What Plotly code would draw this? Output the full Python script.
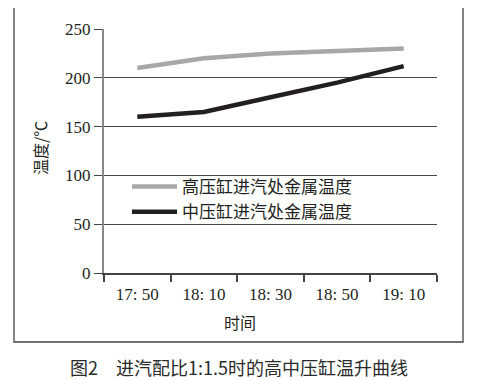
import plotly.graph_objects as go

times = ["17: 50", "18: 10", "18: 30", "18: 50", "19: 10"]
hp_temp = [210, 220, 225, 228, 230]
ip_temp = [160, 165, 180, 195, 212]
series_names = ["高压缸进汽处金属温度", "中压缸进汽处金属温度"]
y_ticks = [0, 50, 100, 150, 200, 250]

OFF = 8  # page body margin offset
W, H = 479 - OFF, 380 - OFF
# plot area in screen coords: x 104..437, y 29..273
L = 104 - OFF
T = 29 - OFF
R = W - (437 - OFF)
B = H - (273 - OFF)
pw, ph = W - L - R, H - T - B

def px(x):
    return (x - OFF - L) / pw

def py(y):
    return (H - B - (y - OFF)) / ph

serif = "Liberation Serif, Times New Roman, serif"
cjk = "Noto Sans CJK SC"

fig = go.Figure()
fig.add_trace(go.Scatter(x=times, y=hp_temp, mode="lines", name=series_names[0],
                         line=dict(color="#a7a7a9", width=4.5)))
fig.add_trace(go.Scatter(x=times, y=ip_temp, mode="lines", name=series_names[1],
                         line=dict(color="#231f20", width=4.5)))

fig.update_layout(
    width=W, height=H,
    margin=dict(l=L, r=R, t=T, b=B, pad=0),
    paper_bgcolor="white", plot_bgcolor="white",
    showlegend=True,
    legend=dict(x=px(127), y=py(169), xanchor="left", yanchor="top",
                bgcolor="rgba(0,0,0,0)", font=dict(family=cjk, size=17, color="#231f20"),
                tracegroupgap=0, itemwidth=45),
    xaxis=dict(type="category", tickson="boundaries", ticks="outside", ticklen=7,
               tickcolor="#444", tickwidth=1.5, showline=True, linecolor="#444", linewidth=1.5,
               showgrid=False, tickfont=dict(family=serif, size=17, color="#231f20"),
               ticklabelstandoff=5, range=[-0.5, 4.5]),
    yaxis=dict(range=[0, 250], tickvals=y_ticks, ticks="outside", ticklen=8,
               tickcolor="#444", tickwidth=1.2, showline=True, linecolor="#888", linewidth=2,
               showgrid=True, gridcolor="#444", gridwidth=1.2, zeroline=False,
               tickfont=dict(family=serif, size=17, color="#231f20")),
    shapes=[dict(type="rect", xref="paper", yref="paper",
                 x0=px(14), x1=px(463), y0=py(342), y1=py(6),
                 line=dict(color="#444", width=1.3))],
    annotations=[
        dict(text="时间", xref="paper", yref="paper", x=px(240), y=py(322),
             xanchor="center", yanchor="middle",
             showarrow=False, font=dict(family=cjk, size=16, color="#231f20")),
        dict(text="温度/℃", xref="paper", yref="paper", x=px(40), y=py(148),
             xanchor="center", yanchor="middle",
             showarrow=False, textangle=-90, font=dict(family=cjk, size=16, color="#231f20")),
        dict(text="图2　进汽配比1:1.5时的高中压缸温升曲线", xref="paper", yref="paper",
             x=px(239), y=py(367), xanchor="center", yanchor="middle", showarrow=False,
             font=dict(family=cjk, size=18, color="#2a2a2a")),
    ],
)

fig.write_html("out.html")
